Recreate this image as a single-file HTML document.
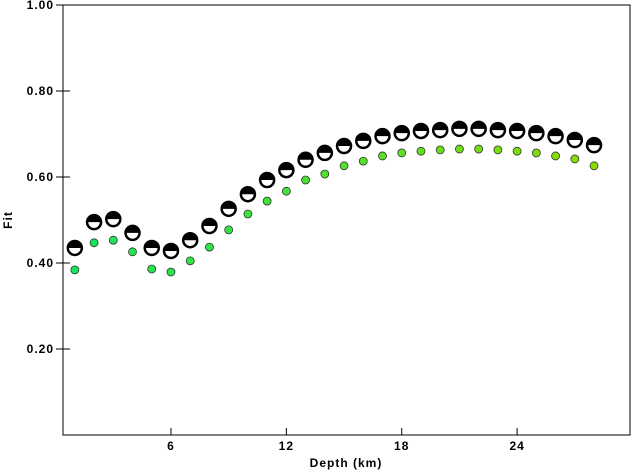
<!DOCTYPE html>
<html><head><meta charset="utf-8"><style>
body{margin:0;background:#fff;}
svg text{font-family:"Liberation Sans",sans-serif;font-weight:bold;font-size:12px;letter-spacing:1px;}
</style></head><body>
<svg id="c" width="632" height="471">
<rect x="63" y="5" width="567" height="430" fill="none" stroke="#000" stroke-width="1"/>
<g id="ax"></g><g id="marks"></g>
<text x="346" y="467" text-anchor="middle">Depth (km)</text>
<text x="12" y="220" text-anchor="middle" transform="rotate(-90 12 220)">Fit</text>
</svg>
<script>
const depths=[1,2,3,4,5,6,7,8,9,10,11,12,13,14,15,16,17,18,19,20,21,22,23,24,25,26,27,28];
const ballFit=[0.435,0.495,0.502,0.470,0.435,0.428,0.453,0.486,0.526,0.560,0.593,0.616,0.640,0.656,0.672,0.684,0.695,0.702,0.707,0.709,0.712,0.712,0.709,0.707,0.702,0.695,0.686,0.674];
const greenFit=[0.384,0.447,0.453,0.426,0.386,0.379,0.405,0.437,0.477,0.514,0.544,0.567,0.593,0.607,0.626,0.637,0.649,0.656,0.660,0.663,0.665,0.665,0.663,0.660,0.656,0.649,0.642,0.626];
const xTicks=[6,12,18,24];
const yTicks=[0.2,0.4,0.6,0.8,1.0];
const yLabels=["0.20","0.40","0.60","0.80","1.00"];
const NS="http://www.w3.org/2000/svg";
const X=d=>55.6+d*19.23;
const Y=v=>435-v*430;
function mk(t,a,p){const e=document.createElementNS(NS,t);for(const k in a)e.setAttribute(k,a[k]);p.appendChild(e);return e;}
const ax=document.getElementById('ax'),mg=document.getElementById('marks');
xTicks.forEach(t=>{
 const l=mk('line',{x1:X(t),x2:X(t),y1:435,y2:428,stroke:'#000'},ax);
 
 
 const tx=mk('text',{x:X(t),y:450,'text-anchor':'middle'},ax);tx.textContent=t;
 
 
});
yTicks.forEach((t,i)=>{
 const l=mk('line',{x1:56,x2:70,y1:Y(t),y2:Y(t),stroke:'#000'},ax);
 
 
 const tx=mk('text',{x:54,y:Y(t)+4,'text-anchor':'end'},ax);tx.textContent=yLabels[i];
 
 
});
depths.forEach((d,i)=>{
 const f=i/(depths.length-1);
 const col=`rgb(${Math.round(20+f*120)},${Math.round(230-f*10)},${Math.round(90-f*90)})`;
 const g=mk('circle',{cx:X(d),cy:Y(greenFit[i]),r:4,fill:col,stroke:'#333','stroke-width':0.8},mg);
 
 
 const cx=X(d),cy=Y(ballFit[i]),r=7;
 const b=mk('g',{},mg);
 
 
 mk('circle',{cx:cx,cy:cy,r:r,fill:'#fff',stroke:'#000','stroke-width':2.5},b);
 mk('path',{d:`M${cx-r},${cy} A${r},${r} 0 0 1 ${cx+r},${cy} Z`,fill:'#000'},b);
});
</script>
</body></html>
